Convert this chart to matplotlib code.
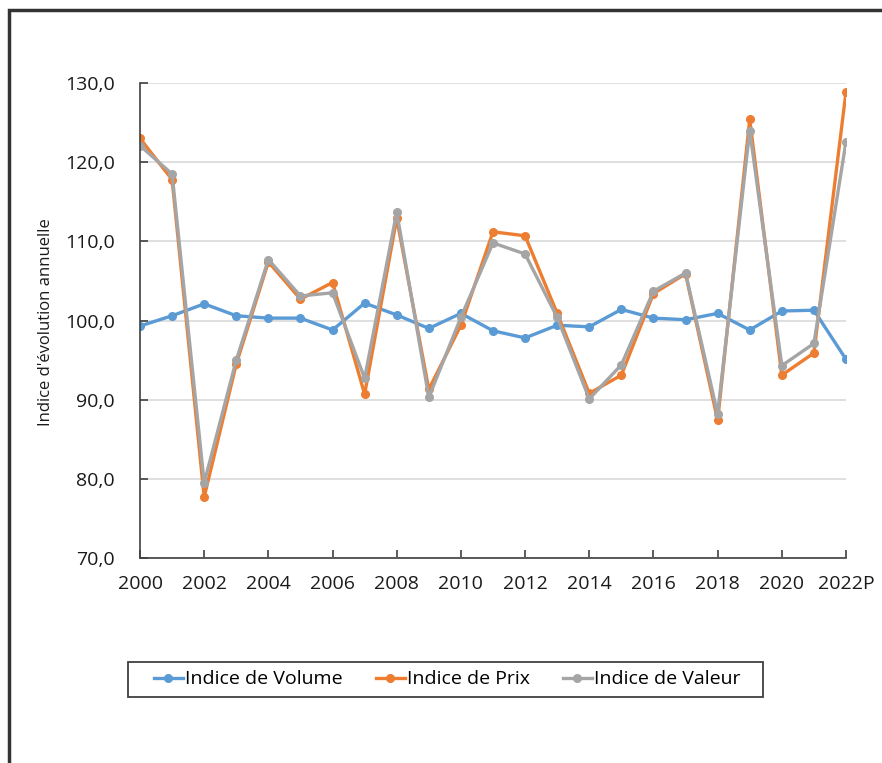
import matplotlib
matplotlib.use("Agg")
import matplotlib.pyplot as plt
from matplotlib.patches import Rectangle

years = list(range(2000, 2023))
tick_years = list(range(2000, 2023, 2))
tick_labels = ["2000", "2002", "2004", "2006", "2008", "2010", "2012",
               "2014", "2016", "2018", "2020", "2022P"]

volume = [99.3, 100.6, 102.1, 100.6, 100.3, 100.3, 98.8, 102.2, 100.7, 99.0,
          100.9, 98.7, 97.8, 99.4, 99.2, 101.4, 100.3, 100.1, 100.9, 98.8,
          101.2, 101.3, 95.1]
prix = [123.0, 117.8, 77.7, 94.5, 107.4, 102.7, 104.8, 90.7, 112.9, 91.3,
        99.4, 111.2, 110.7, 100.9, 90.8, 93.1, 103.4, 105.9, 87.4, 125.4,
        93.1, 95.9, 128.9]
valeur = [122.1, 118.5, 79.5, 95.0, 107.7, 103.1, 103.5, 92.7, 113.7, 90.3,
          100.4, 109.8, 108.4, 100.4, 90.1, 94.4, 103.7, 106.0, 88.2, 124.0,
          94.3, 97.1, 122.6]
series_names = ["Indice de Volume", "Indice de Prix", "Indice de Valeur"]
colors = ["#5B9BD5", "#ED7D31", "#A5A5A5"]

plt.rcParams['font.family'] = ['Open Sans', 'DejaVu Sans']

fig = plt.figure(figsize=(8.82, 7.63), dpi=100)
ax = fig.add_axes([140/882, 1-558/763, 706/882, 475/763])

for vals, name, col in zip([volume, prix, valeur], series_names, colors):
    ax.plot(years, vals, color=col, lw=2.4, marker='o', markersize=5.5,
            label=name, solid_joinstyle='round')

ax.set_xlim(2000, 2022)
ax.set_ylim(70, 130)
ax.set_yticks(range(70, 131, 10))
ax.set_yticklabels([f"{v},0" for v in range(70, 131, 10)])
ax.set_xticks(tick_years)
ax.set_xticklabels(tick_labels)
ax.tick_params(axis='both', direction='in', length=6, width=1.2,
               color='#404040', labelsize=14, labelcolor='#1a1a1a')
ax.tick_params(axis='y', pad=18)
ax.tick_params(axis='x', pad=12)
ax.grid(axis='y', color='#D9D9D9', lw=1.2)
ax.set_axisbelow(True)
for s in ['top', 'right']:
    ax.spines[s].set_visible(False)
for s in ['left', 'bottom']:
    ax.spines[s].set_color('#404040')
    ax.spines[s].set_linewidth(1.2)

fig.text(46/882, 1-322/763, "Indice d'\u00e9volution annuelle", rotation=90,
         ha='center', va='center', fontsize=12, color='#1a1a1a')

leg = fig.legend(loc='center', bbox_to_anchor=(447/882, 1-679.5/763),
                 ncol=3, fontsize=14, frameon=False,
                 handlelength=1.5, handletextpad=0.1, borderpad=0.3,
                 columnspacing=1.7, borderaxespad=0)

fig.patches.append(Rectangle((128/882, 1-697/763), 635/882, 35/763,
                             transform=fig.transFigure, fill=False,
                             edgecolor='#404040', lw=1.3))

fig.patches.append(Rectangle((9/882, -0.1), 1.2, 1 - 10/763 + 0.1,
                             transform=fig.transFigure, fill=False,
                             edgecolor='#333333', lw=2.5))

fig.savefig("out.png", dpi=100)
